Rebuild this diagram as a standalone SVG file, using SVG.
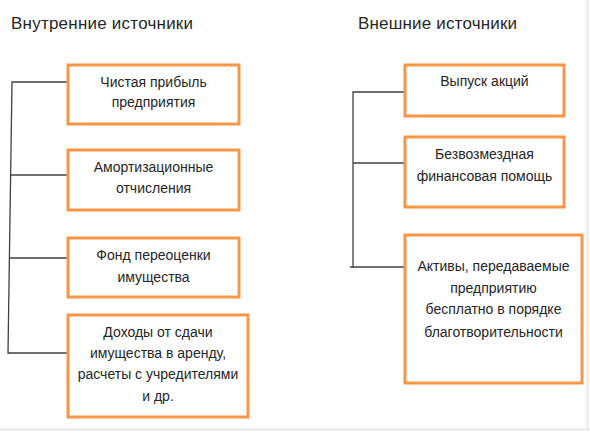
<svg xmlns="http://www.w3.org/2000/svg" width="590" height="433" viewBox="0 0 590 433">
<style>
.box{fill:#fff;stroke:#F79646;stroke-width:3}
.t{font-family:"Liberation Sans","Noto Sans",sans-serif;font-size:14px;fill:#262626;text-anchor:middle}
.h{font-family:"Liberation Sans","Noto Sans",sans-serif;font-size:17px;fill:#262626}
.c{fill:none;stroke:#404040;stroke-width:1.3}
</style>
<rect width="590" height="433" fill="#fff"/>
<line x1="587.5" y1="0" x2="587.5" y2="429" stroke="#e3e3e3" stroke-width="1.5"/>
<line x1="0" y1="429.5" x2="590" y2="429.5" stroke="#e3e3e3" stroke-width="1.5"/>
<text class="h" x="11" y="29" textLength="182">Внутренние источники</text>
<text class="h" x="358" y="29" textLength="159">Внешние источники</text>
<g id="connectors">
<path class="c" d="M68 82 H12 L8 353 H68"/>
<path class="c" d="M10.6 175 H68 M9.4 258 H68"/>
<path class="c" d="M405 92 H353 V267 H405"/>
<path class="c" d="M353 163 H405 M350 267 H353"/>
</g>
<g id="n1"><rect class="box" x="68" y="65" width="171" height="59"/>
<text class="t" x="153.5" y="87">Чистая прибыль</text><text class="t" x="153.5" y="107">предприятия</text></g>
<g id="n2"><rect class="box" x="68" y="150" width="171" height="60"/>
<text class="t" x="153.5" y="172">Амортизационные</text><text class="t" x="153.5" y="193">отчисления</text></g>
<g id="n3"><rect class="box" x="68" y="238" width="171" height="59"/>
<text class="t" x="153.5" y="260">Фонд переоценки</text><text class="t" x="153.5" y="282">имущества</text></g>
<g id="n4"><rect class="box" x="68" y="315" width="180" height="102"/>
<text class="t" x="158" y="337">Доходы от сдачи</text><text class="t" x="158" y="358">имущества в аренду,</text><text class="t" x="158" y="379">расчеты с учредителями</text><text class="t" x="158" y="401">и др.</text></g>
<g id="n5"><rect class="box" x="405" y="65" width="159" height="51"/>
<text class="t" x="484.5" y="86">Выпуск акций</text></g>
<g id="n6"><rect class="box" x="405" y="137" width="159" height="70"/>
<text class="t" x="484.5" y="159">Безвозмездная</text><text class="t" x="484.5" y="181">финансовая помощь</text></g>
<g id="n7"><rect class="box" x="405" y="235" width="177" height="148"/>
<text class="t" x="493.5" y="271">Активы, передаваемые</text><text class="t" x="493.5" y="293">предприятию</text><text class="t" x="493.5" y="314">бесплатно в порядке</text><text class="t" x="493.5" y="337">благотворительности</text></g>
</svg>
